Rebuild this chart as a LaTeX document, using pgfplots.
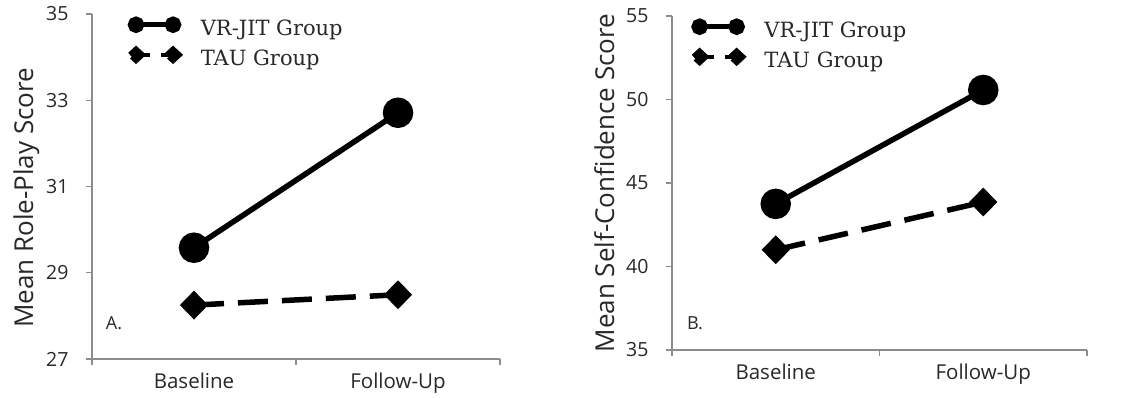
\documentclass[border=0pt]{standalone}
\usepackage{pgfplots}
\pgfplotsset{compat=1.18}
\usepackage{fontspec}
\setmainfont{Open Sans}
\newfontfamily\legfont{DejaVu Serif}
\definecolor{axgray}{RGB}{140,140,140}
\definecolor{txt}{RGB}{40,40,40}
\newcommand{\leg}[1]{\hspace{17pt}\raisebox{-4pt}[\height][\depth]{#1}}

\begin{document}
\begin{tikzpicture}
\useasboundingbox (0pt,0pt) rectangle (1126pt,398pt);
\pgfplotsset{
  panel/.style={
    scale only axis,
    axis x line=bottom, axis y line=left,
    axis line style={draw=axgray, line width=1.2pt, -},
    xmin=0, xmax=2,
    xtick={0,1,2}, xticklabels={,,},
    extra x ticks={0.5,1.5},
    extra x tick labels={Baseline,Follow-Up},
    extra x tick style={major tick length=0pt},
    tick align=outside,
    major tick length=6pt,
    every tick/.style={draw=axgray, line width=1.2pt},
    ticklabel style={font=\fontsize{20.5}{25}\selectfont, text=txt},
    xticklabel style={yshift=-10pt},
    yticklabel style={xshift=-14pt, font=\fontsize{19.5}{24}\selectfont},
    /pgf/number format/assume math mode=true,
    ylabel style={font=\fontsize{26}{30}\selectfont, text=txt},
    legend style={draw=none, fill=none, font=\legfont\fontsize{21}{25}\selectfont,
      anchor=north west, inner sep=0pt, row sep=9pt, text=txt},
    legend cell align=left,
    clip=false,
  },
  vrjit/.style={black, line width=5.5pt, mark=*, mark size=12.5pt, mark options={solid},
    legend image code/.code={
      \draw[black, line width=4.5pt] (0pt,0pt) -- (37pt,0pt);
      \fill[black] (0pt,0pt) circle (5.5pt);
      \fill[black] (37pt,0pt) circle (5.5pt);
    }},
  tau/.style={black, line width=5.5pt, dash pattern=on 30pt off 14pt, mark=diamond*, mark size=10.5pt,
    mark options={solid, xscale=1.3},
    legend image code/.code={
      \draw[black, line width=4.5pt, dash pattern=on 14pt off 11pt] (0pt,0pt) -- (37pt,0pt);
      \fill[black] (-6pt,0pt) -- (0pt,5.5pt) -- (6pt,0pt) -- (0pt,-5.5pt) -- cycle;
      \fill[black] (31pt,0pt) -- (37pt,5.5pt) -- (43pt,0pt) -- (37pt,-5.5pt) -- cycle;
    }},
}

\begin{axis}[panel,
  at={(92pt,39pt)}, anchor=south west,
  width=408pt, height=345pt,
  ymin=27, ymax=35, ytick={27,29,31,33,35},
  ylabel={Mean Role-Play Score},
  ylabel shift=0pt,
  ylabel style={at={(ticklabel cs:0.467)}},
  legend style={at={(rel axis cs:0.086,1.0)}},
]
\addplot[vrjit] coordinates {(0.5,29.58) (1.5,32.71)};
\addlegendentry{\leg{VR-JIT Group}}
\addplot[tau] coordinates {(0.5,28.25) (1.5,28.49)};
\addlegendentry{\leg{TAU Group}}
\node[font=\fontsize{18}{22}\selectfont, text=txt] at (axis cs:0.108,27.84) {A.};
\end{axis}

\begin{axis}[panel,
  at={(672pt,48pt)}, anchor=south west,
  width=415pt, height=334pt,
  ymin=35, ymax=55, ytick={35,40,45,50,55},
  ylabel={Mean Self-Confidence Score},
  ylabel shift=5pt,
  legend style={at={(rel axis cs:0.045,1.0)}},
]
\addplot[vrjit] coordinates {(0.5,43.75) (1.5,50.57)};
\addlegendentry{\leg{VR-JIT Group}}
\addplot[tau] coordinates {(0.5,41.0) (1.5,43.86)};
\addlegendentry{\leg{TAU Group}}
\node[font=\fontsize{18}{22}\selectfont, text=txt] at (axis cs:0.111,36.6) {B.};
\end{axis}
\end{tikzpicture}
\end{document}
